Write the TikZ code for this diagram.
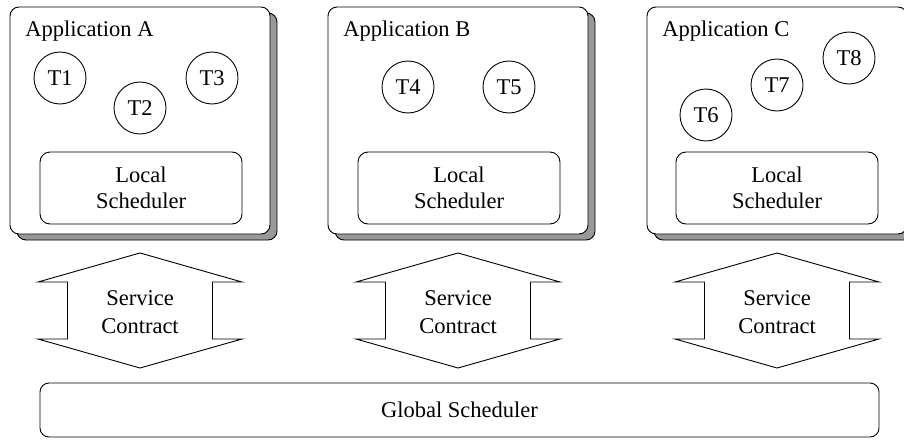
\documentclass[tikz,border=0pt]{standalone}
\usepackage{fontspec}
\setmainfont{Liberation Serif}
\usetikzlibrary{shadows}
\begin{document}
\begin{tikzpicture}[x=1pt,y=-1pt,line width=0.9pt,
  every node/.style={font=\fontsize{22.5}{27}\selectfont},
  app/.style={draw, fill=white, rounded corners=9pt, minimum width=260pt, minimum height=227pt,
    inner sep=0pt, copy shadow={shadow xshift=7pt, shadow yshift=-6pt, fill=gray!80, draw=black}},
  task/.style={draw, circle, minimum size=52pt, inner sep=0pt},
  sched/.style={draw, rounded corners=10pt, minimum width=202pt, minimum height=72pt,
    inner sep=0pt, align=center, font=\fontsize{22.5}{26}\selectfont},
  title/.style={anchor=base west, inner sep=0pt},
  contract/.style={align=center, inner sep=0pt, font=\fontsize{22.5}{28}\selectfont}
]
\useasboundingbox (0,0) rectangle (904,439);
\clip (0,0) rectangle (904,439);

% application boxes with their shadows
\node[app] (appA) at (140,120.5) {};
\node[app] (appB) at (458,120.5) {};
\node[app] (appC) at (777,120.5) {};

\node[title] (labA) at (25,36) {Application A};
\node[title] (labB) at (343,36) {Application B};
\node[title] (labC) at (662,36) {Application C};

% tasks
\node[task] (t1) at (60,78) {T1};
\node[task] (t2) at (140,108) {T2};
\node[task] (t3) at (212,78) {T3};
\node[task] (t4) at (408,87) {T4};
\node[task] (t5) at (509,87) {T5};
\node[task] (t6) at (706,115) {T6};
\node[task] (t7) at (777,85) {T7};
\node[task] (t8) at (849,58) {T8};

% local schedulers
\node[sched] (lsA) at (141,188) {Local\\Scheduler};
\node[sched] (lsB) at (459,188) {Local\\Scheduler};
\node[sched] (lsC) at (777,188) {Local\\Scheduler};

% service contracts as double-headed block arrows
\foreach \n/\cx in {A/140,B/458,C/777}{
  \coordinate (sc\n) at (\cx,310.5);
  \draw[fill=white] (sc\n) ++(0,-57.5) -- ++(102,29) -- ++(-29.5,0) -- ++(0,57) -- ++(29.5,0)
     -- ++(-102,29) -- ++(-102,-29) -- ++(29.5,0) -- ++(0,-57) -- ++(-29.5,0) -- cycle;
  \node[contract] (sct\n) at (\cx,312) {Service\\Contract};
}

% global scheduler
\node[draw, rounded corners=9pt, minimum width=839pt, minimum height=54pt, inner sep=0pt]
  (gs) at (459.5,410) {Global Scheduler};
\end{tikzpicture}
\end{document}
